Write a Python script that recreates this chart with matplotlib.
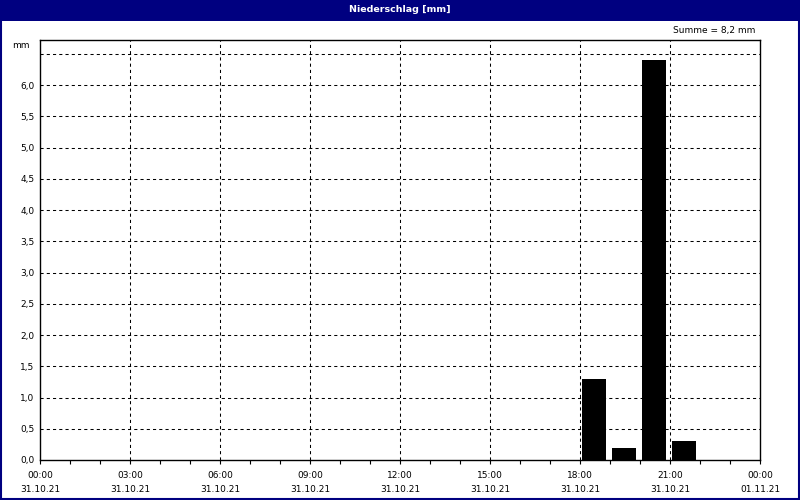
import matplotlib
matplotlib.use("Agg")
import matplotlib.pyplot as plt
from matplotlib.patches import Rectangle
from matplotlib.ticker import MultipleLocator, FixedLocator

# hourly precipitation (hour of day the interval starts, mm)
hours = [18, 19, 20, 21]
rain_mm = [1.3, 0.2, 6.4, 0.3]
total_label = "Summe = 8,2 mm"
title = "Niederschlag [mm]"
xtick_hours = [0, 3, 6, 9, 12, 15, 18, 21, 24]
xtick_times = ["00:00", "03:00", "06:00", "09:00", "12:00", "15:00", "18:00", "21:00", "00:00"]
xtick_dates = ["31.10.21"] * 8 + ["01.11.21"]
ytick_values = [0.0, 0.5, 1.0, 1.5, 2.0, 2.5, 3.0, 3.5, 4.0, 4.5, 5.0, 5.5, 6.0]

NAVY = "#000080"
W, H = 800, 500

plt.rcParams.update({"font.family": "DejaVu Sans", "font.size": 6.5})

fig = plt.figure(figsize=(8, 5), dpi=100, facecolor="white")
ax = fig.add_axes([40 / W, 1 - 460 / H, 720 / W, 420 / H])

ax.bar([h + 0.07 for h in hours], rain_mm, width=0.8, align="edge",
       color="black", edgecolor="black", linewidth=0, zorder=3)

ax.set_xlim(0, 24)
ax.set_ylim(0, 6.72)

dash = (0, (3.0, 3.0))
for h in xtick_hours[1:-1]:
    ax.axvline(h, color="black", linewidth=0.75, linestyle=dash, zorder=1)
for v in ytick_values[1:] + [6.5]:
    ax.axhline(v, color="black", linewidth=0.75, linestyle=dash, zorder=1)

ax.xaxis.set_major_locator(FixedLocator(xtick_hours))
ax.xaxis.set_minor_locator(MultipleLocator(1))
ax.set_xticklabels([f"{t}\n{d}" for t, d in zip(xtick_times, xtick_dates)],
                   linespacing=1.75)
ax.tick_params(axis="x", which="both", direction="out", length=3, width=0.8,
               pad=5, color="black", labelsize=6.5)
ax.set_yticks(ytick_values)
ax.set_yticklabels([f"{v:.1f}".replace(".", ",") for v in ytick_values])
ax.tick_params(axis="y", length=0, pad=4, labelsize=6.5)

for spine in ax.spines.values():
    spine.set_linewidth(1.0)
    spine.set_color("black")

ax.text(-0.015, 6.72 - 0.08, "mm", transform=ax.get_yaxis_transform(),
        ha="right", va="center", fontsize=6.5)

# title bar and window frame
fig.patches.append(Rectangle((0, 1 - 21 / H), 1, 21 / H, transform=fig.transFigure,
                             facecolor=NAVY, edgecolor="none", zorder=0))
fig.patches.append(Rectangle((1 / W, 1 / H), 1 - 2 / W, 1 - 2 / H, transform=fig.transFigure,
                             facecolor="none", edgecolor=NAVY, linewidth=1.5, zorder=5))
fig.text(0.5, 1 - 10 / H, title, color="white", fontweight="bold",
         ha="center", va="center", fontsize=6.8)
fig.text(755 / W, 1 - 31 / H, total_label, ha="right", va="center", fontsize=6.5)

fig.savefig("out.png", dpi=100, facecolor="white")
